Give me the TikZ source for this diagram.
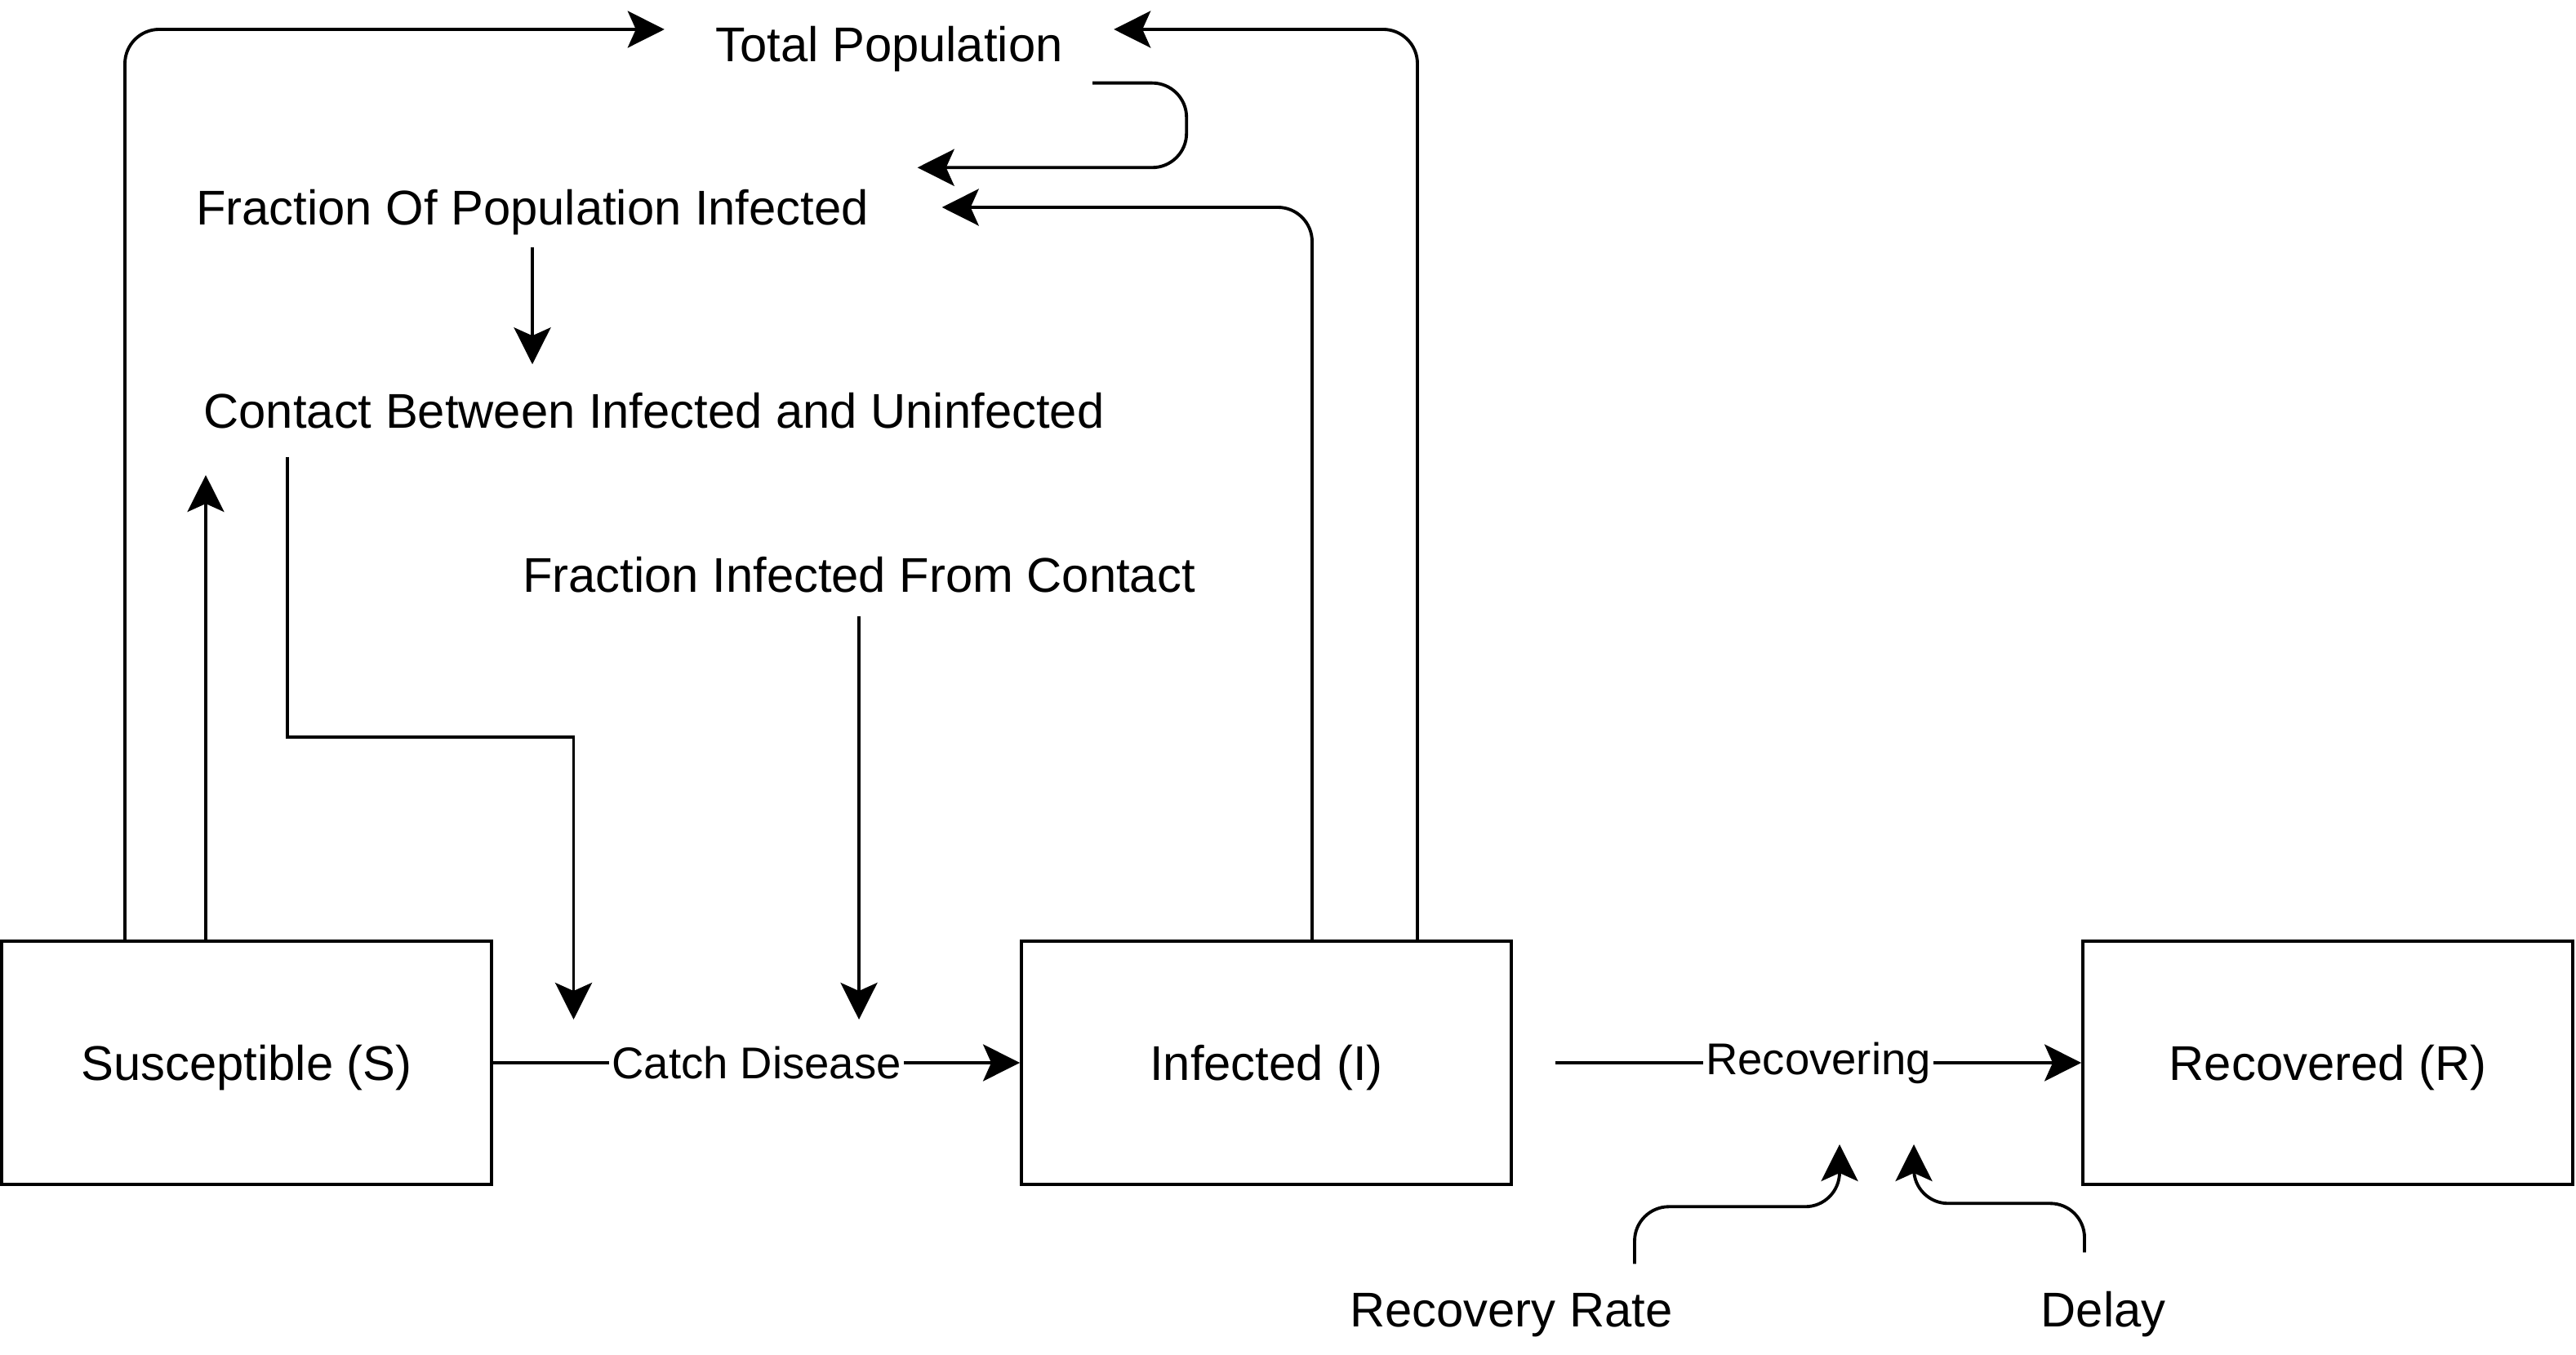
\documentclass[tikz,border=0pt]{standalone}
\usepackage{fontspec}
\setmainfont{Liberation Sans}
\usetikzlibrary{arrows.meta}
\usetikzlibrary{calc}
\usetikzlibrary{positioning}

\tikzset{
  stock/.style={draw, line width=1.1pt, minimum width=6cm, minimum height=2.98cm,
                text height=13.6pt, text depth=1.3pt, font=\fontsize{17}{20}\selectfont},
  lbl/.style={inner sep=0pt, text height=13.6pt, text depth=1.3pt, font=\fontsize{17}{20}\selectfont},
  flowlbl/.style={fill=white, inner sep=1pt, font=\fontsize{15.5}{18}\selectfont},
  link/.style={line width=1.1pt, -{Stealth[length=4.5mm, width=4.5mm, inset=1mm]}},
  roundlink/.style={link, rounded corners=4.2mm},
}

\begin{document}
\begin{tikzpicture}

\useasboundingbox (0,0) rectangle (31.55,16.6);

%---------------------------------------
% Stocks
%---------------------------------------
\node[stock] (sus) at (3.02,3.58)  {Susceptible (S)};
\node[stock] (inf) at (15.51,3.58) {Infected (I)};
\node[stock] (rec) at (28.51,3.58) {Recovered (R)};

%---------------------------------------
% Auxiliary variables
%---------------------------------------
\node[lbl, minimum width=5.49cm, minimum height=0.94cm]  (tot) at (10.89,16.06) {Total Population};
\node[lbl, minimum width=10.02cm, minimum height=0.96cm] (fpi) at (6.52,14.06)  {Fraction Of Population Infected};
\node[lbl, minimum height=1.12cm] (cbi)   at (8.01,11.57)  {Contact Between Infected and Uninfected};
\node[lbl, minimum height=1.0cm]  (fic)   at (10.52,9.56)  {Fraction Infected From Contact};
\node[lbl, minimum height=1.1cm]  (rrate) at (18.51,0.56)  {Recovery Rate};
\node[lbl, minimum height=1.1cm]  (delay) at (25.76,0.56)  {Delay};

%---------------------------------------
% Flows
%---------------------------------------
\draw[link] (sus.east) -- node[flowlbl] (catch) {Catch Disease} (inf.west);
\draw[link] ([xshift=5.2mm]inf.east) -- node[flowlbl] (recov) {Recovering} (rec.west);

%---------------------------------------
% Feedback links
%---------------------------------------
% stocks -> total population
\draw[roundlink] ([xshift=-14.9mm]sus.north) |- ([yshift=1.8mm]tot.west);
\draw[roundlink] ([xshift=18.5mm]inf.north) |- ([yshift=1.8mm]tot.east);

% -> fraction of population infected
\draw[roundlink] ([xshift=-2.6mm]tot.south east) -- ++(1.15,0) |- ([xshift=-3mm]fpi.north east);
\draw[roundlink] ([xshift=5.6mm]inf.north) |- (fpi.east);

% -> contact
\draw[link] (fpi.south) -- (fpi.south |- cbi.north);
\draw[link] ([xshift=-5mm]sus.north) -- ++(0,5.69);

% -> catch disease
\draw[link] ([xshift=-44.9mm]cbi.south) -- ++(0,-3.43) -| ($(catch)+(-2.24,0.53)$);
\draw[link] (fic.south) -- ($(fic.south |- catch)+(0,0.53)$);

% -> recovering
\draw[roundlink] ([xshift=15.1mm]rrate.north) -- ++(0,0.7) -| ($(recov)+(0.26,-1)$);
\draw[roundlink] ([xshift=-2.3mm, yshift=1.4mm]delay.north) -- ++(0,0.6) -| ($(recov)+(1.17,-1)$);

\end{tikzpicture}
\end{document}
